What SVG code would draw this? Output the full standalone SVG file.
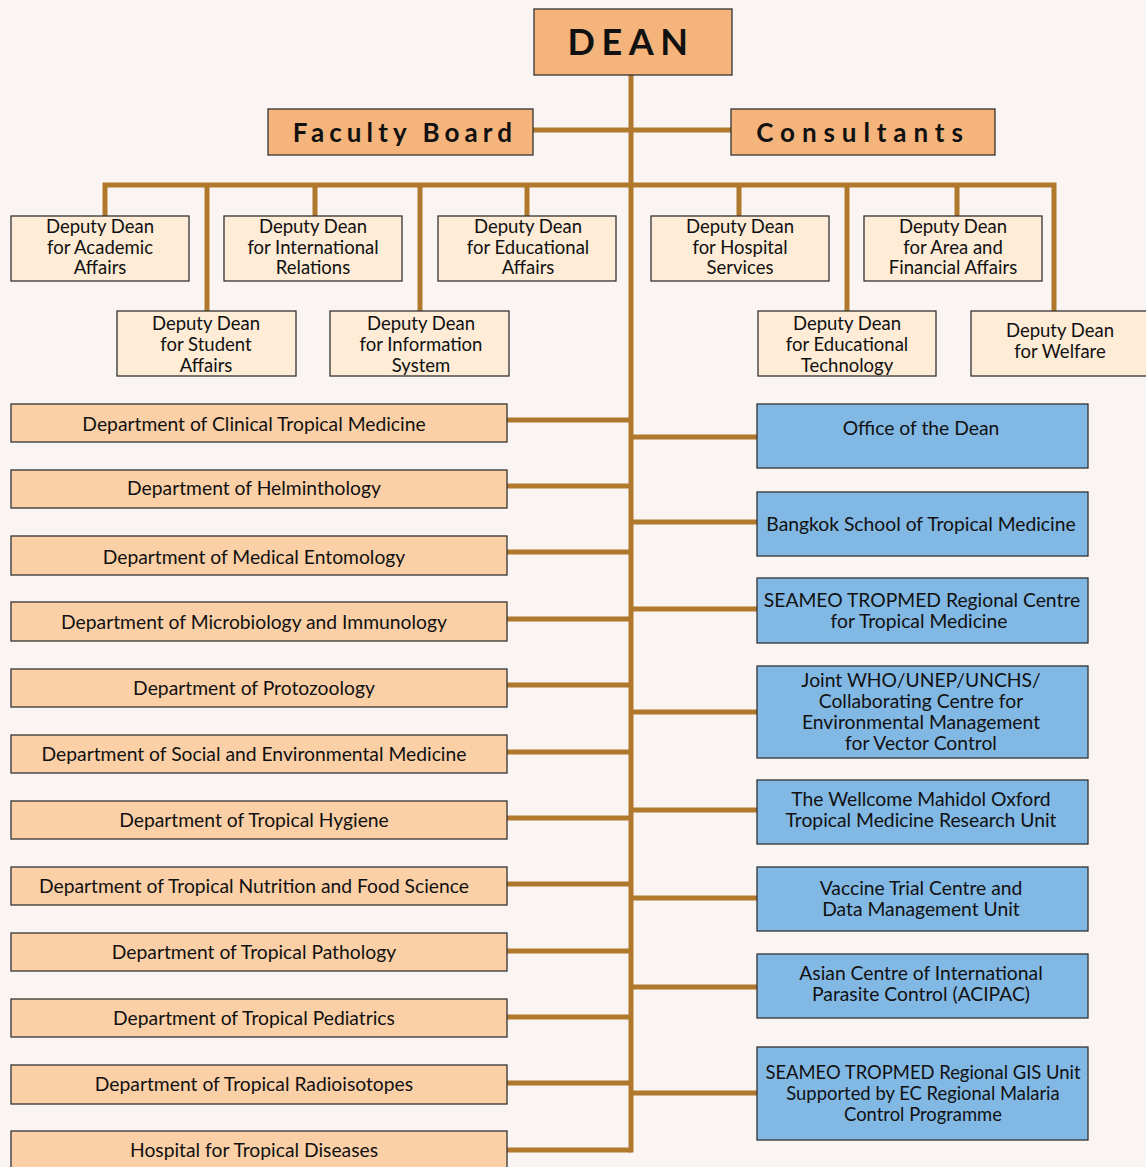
<svg xmlns="http://www.w3.org/2000/svg" width="1146" height="1167" viewBox="0 0 1146 1167">
<style>
.bg{fill:#FAF5F2}
.box{stroke:#333;stroke-width:1.3}
.dean{fill:#F5B47C}
.dep{fill:#FEECD6}
.dept{fill:#FBD0A7}
.blue{fill:#82B8E4}
.ln{stroke:#B0782C;stroke-width:5;fill:none}
text{font-family:Lato,"Open Sans","Liberation Sans",sans-serif;fill:#111;text-anchor:middle}
.t{font-size:18.5px}
.d{font-size:19.3px}
.g{font-size:18.4px}
.big{font-weight:bold;font-size:36px;letter-spacing:6.5px}
.mid{font-weight:bold;font-size:26px;letter-spacing:5.1px}
.mid2{font-weight:bold;font-size:26px;letter-spacing:6.9px}
</style>
<rect class="bg" x="0" y="0" width="1146" height="1167"/>
<g id="connectors">
<path class="ln" d="M631 75V1152.5"/>
<path class="ln" d="M533 130H731"/>
<path class="ln" d="M105 216V185H1054V311"/>
<path class="ln" d="M207 185V311M315 185V216M420 185V311M527 185V216M739 185V216M847 185V311M957 185V216"/>
<path class="ln" d="M507 420H631M507 486H631M507 552H631M507 619H631M507 685H631M507 752H631M507 818H631M507 884H631M507 951H631M507 1017H631M507 1083H631M507 1150H631"/>
<path class="ln" d="M631 437H757M631 522H757M631 609H757M631 712H757M631 810H757M631 898H757M631 987H757M631 1093H757"/>
</g>
<g id="dean"><rect class="box dean" x="534" y="9" width="198" height="66"/><text class="big" x="631" y="55">DEAN</text></g>
<g id="faculty-board"><rect class="box dean" x="268" y="109" width="265" height="46"/><text class="mid" x="405" y="142">Faculty Board</text></g>
<g id="consultants"><rect class="box dean" x="731" y="109" width="264" height="46"/><text class="mid2" x="863" y="142">Consultants</text></g>

<g id="dd-academic"><rect class="box dep" x="11" y="216" width="178" height="65"/><text class="t" x="100" y="233">Deputy Dean</text><text class="t" x="100" y="254">for Academic</text><text class="t" x="100" y="274">Affairs</text></g>
<g id="dd-international"><rect class="box dep" x="224" y="216" width="178" height="65"/><text class="t" x="313" y="233">Deputy Dean</text><text class="t" x="313" y="254">for International</text><text class="t" x="313" y="274">Relations</text></g>
<g id="dd-educational-affairs"><rect class="box dep" x="438" y="216" width="178" height="65"/><text class="t" x="528" y="233">Deputy Dean</text><text class="t" x="528" y="254">for Educational</text><text class="t" x="528" y="274">Affairs</text></g>
<g id="dd-hospital"><rect class="box dep" x="651" y="216" width="178" height="65"/><text class="t" x="740" y="233">Deputy Dean</text><text class="t" x="740" y="254">for Hospital</text><text class="t" x="740" y="274">Services</text></g>
<g id="dd-area"><rect class="box dep" x="864" y="216" width="178" height="65"/><text class="t" x="953" y="233">Deputy Dean</text><text class="t" x="953" y="254">for Area and</text><text class="t" x="953" y="274">Financial Affairs</text></g>
<g id="dd-student"><rect class="box dep" x="117" y="311" width="179" height="65"/><text class="t" x="206" y="330">Deputy Dean</text><text class="t" x="206" y="351">for Student</text><text class="t" x="206" y="372">Affairs</text></g>
<g id="dd-information"><rect class="box dep" x="330" y="311" width="179" height="65"/><text class="t" x="421" y="330">Deputy Dean</text><text class="t" x="421" y="351">for Information</text><text class="t" x="421" y="372">System</text></g>
<g id="dd-edtech"><rect class="box dep" x="758" y="311" width="178" height="65"/><text class="t" x="847" y="330">Deputy Dean</text><text class="t" x="847" y="351">for Educational</text><text class="t" x="847" y="372">Technology</text></g>
<g id="dd-welfare"><rect class="box dep" x="971" y="311" width="180" height="65"/><text class="t" x="1060" y="337">Deputy Dean</text><text class="t" x="1060" y="358">for Welfare</text></g>

<g id="dept-clinical"><rect class="box dept" x="11" y="404" width="496" height="38"/><text class="d" x="254" y="431">Department of Clinical Tropical Medicine</text></g>
<g id="dept-helminthology"><rect class="box dept" x="11" y="470" width="496" height="38"/><text class="d" x="254" y="495">Department of Helminthology</text></g>
<g id="dept-entomology"><rect class="box dept" x="11" y="536" width="496" height="39"/><text class="d" x="254" y="564">Department of Medical Entomology</text></g>
<g id="dept-microbiology"><rect class="box dept" x="11" y="602" width="496" height="39"/><text class="d" x="254" y="629">Department of Microbiology and Immunology</text></g>
<g id="dept-protozoology"><rect class="box dept" x="11" y="669" width="496" height="38"/><text class="d" x="254" y="695">Department of Protozoology</text></g>
<g id="dept-social"><rect class="box dept" x="11" y="735" width="496" height="38"/><text class="d" x="254" y="761">Department of Social and Environmental Medicine</text></g>
<g id="dept-hygiene"><rect class="box dept" x="11" y="801" width="496" height="38"/><text class="d" x="254" y="827">Department of Tropical Hygiene</text></g>
<g id="dept-nutrition"><rect class="box dept" x="11" y="867" width="496" height="38"/><text class="d" x="254" y="893">Department of Tropical Nutrition and Food Science</text></g>
<g id="dept-pathology"><rect class="box dept" x="11" y="933" width="496" height="38"/><text class="d" x="254" y="959">Department of Tropical Pathology</text></g>
<g id="dept-pediatrics"><rect class="box dept" x="11" y="999" width="496" height="38"/><text class="d" x="254" y="1025">Department of Tropical Pediatrics</text></g>
<g id="dept-radioisotopes"><rect class="box dept" x="11" y="1065" width="496" height="39"/><text class="d" x="254" y="1091">Department of Tropical Radioisotopes</text></g>
<g id="hospital"><rect class="box dept" x="11" y="1131" width="496" height="40"/><text class="d" x="254" y="1157">Hospital for Tropical Diseases</text></g>

<g id="office-dean"><rect class="box blue" x="757" y="404" width="331" height="64"/><text class="d" x="921" y="435">Office of the Dean</text></g>
<g id="bangkok-school"><rect class="box blue" x="757" y="492" width="331" height="64"/><text class="d" x="921" y="531">Bangkok School of Tropical Medicine</text></g>
<g id="seameo-centre"><rect class="box blue" x="757" y="578" width="331" height="65"/><text class="d" x="922" y="607">SEAMEO TROPMED Regional Centre</text><text class="d" x="919" y="628">for Tropical Medicine</text></g>
<g id="joint-who"><rect class="box blue" x="757" y="666" width="331" height="92"/><text class="d" x="921" y="687">Joint WHO/UNEP/UNCHS/</text><text class="d" x="921" y="708">Collaborating Centre for</text><text class="d" x="921" y="729">Environmental Management</text><text class="d" x="921" y="750">for Vector Control</text></g>
<g id="wellcome"><rect class="box blue" x="757" y="780" width="331" height="64"/><text class="d" x="921" y="806">The Wellcome Mahidol Oxford</text><text class="d" x="921" y="827">Tropical Medicine Research Unit</text></g>
<g id="vaccine"><rect class="box blue" x="757" y="867" width="331" height="64"/><text class="d" x="921" y="895">Vaccine Trial Centre and</text><text class="d" x="921" y="916">Data Management Unit</text></g>
<g id="acipac"><rect class="box blue" x="757" y="954" width="331" height="64"/><text class="d" x="921" y="980">Asian Centre of International</text><text class="d" x="921" y="1001">Parasite Control (ACIPAC)</text></g>
<g id="gis-unit"><rect class="box blue" x="757" y="1047" width="331" height="93"/><text class="g" x="923" y="1079">SEAMEO TROPMED Regional GIS Unit</text><text class="g" x="923" y="1100">Supported by EC Regional Malaria</text><text class="g" x="923" y="1121">Control Programme</text></g>
</svg>
